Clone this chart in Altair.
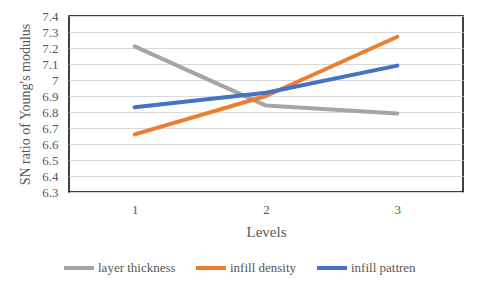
import altair as alt
import pandas as pd

levels = ["1", "2", "3"]
series = ["layer thickness", "infill density", "infill pattren"]
layer_thickness = [7.21, 6.84, 6.79]
infill_density = [6.66, 6.90, 7.27]
infill_pattren = [6.83, 6.92, 7.09]
colors = ["#A5A5A5", "#ED7D31", "#4472C4"]

rows = []
for name, vals in zip(series, [layer_thickness, infill_density, infill_pattren]):
    for i, (lv, v) in enumerate(zip(levels, vals)):
        rows.append({"Level": lv, "Series": name, "Value": v, "order": series.index(name)})
df = pd.DataFrame(rows)

font = "Liberation Serif"

chart = alt.Chart(df).mark_line(strokeWidth=4, strokeCap="round", strokeJoin="round").encode(
    x=alt.X("Level:O", sort=levels, title="Levels",
            scale=alt.Scale(type="point", padding=0.5),
            axis=alt.Axis(labelAngle=0, ticks=False, domain=False, labelPadding=11,
                          titlePadding=8, labelFontSize=13, titleFontSize=15,
                          labelColor="#595959", titleColor="#595959",
                          labelFont=font, titleFont=font, titleFontWeight="normal")),
    y=alt.Y("Value:Q", title="SN  ratio of Young's modulus",
            scale=alt.Scale(domain=[6.3, 7.4], nice=False, zero=False),
            axis=alt.Axis(values=[round(6.3 + 0.1 * i, 1) for i in range(12)], format=".1~f",
                          ticks=False, domain=False, labelPadding=11, titlePadding=9,
                          labelFontSize=13, titleFontSize=14, labelColor="#595959",
                          titleColor="#595959", labelFont=font, titleFont=font,
                          titleFontWeight="normal", gridColor="#D9D9D9", gridWidth=1)),
    color=alt.Color("Series:N", sort=series,
                    scale=alt.Scale(domain=series, range=colors),
                    legend=alt.Legend(title=None, orient="none", direction="horizontal",
                                      legendX=-7, legendY=235, symbolType="stroke",
                                      symbolSize=900, symbolStrokeWidth=4,
                                      labelFont=font, labelFontSize=13, labelColor="#595959",
                                      columnPadding=12, labelOffset=2)),
    order=alt.Order("order:Q"),
).properties(
    width=394, height=176,
    padding={"left": 61, "top": 8, "right": 9, "bottom": 89},
    autosize=alt.AutoSizeParams(type="none"),
).configure_view(stroke="black", strokeWidth=1.5)

chart.save("out.html", embed_options={"renderer": "svg", "actions": False})
